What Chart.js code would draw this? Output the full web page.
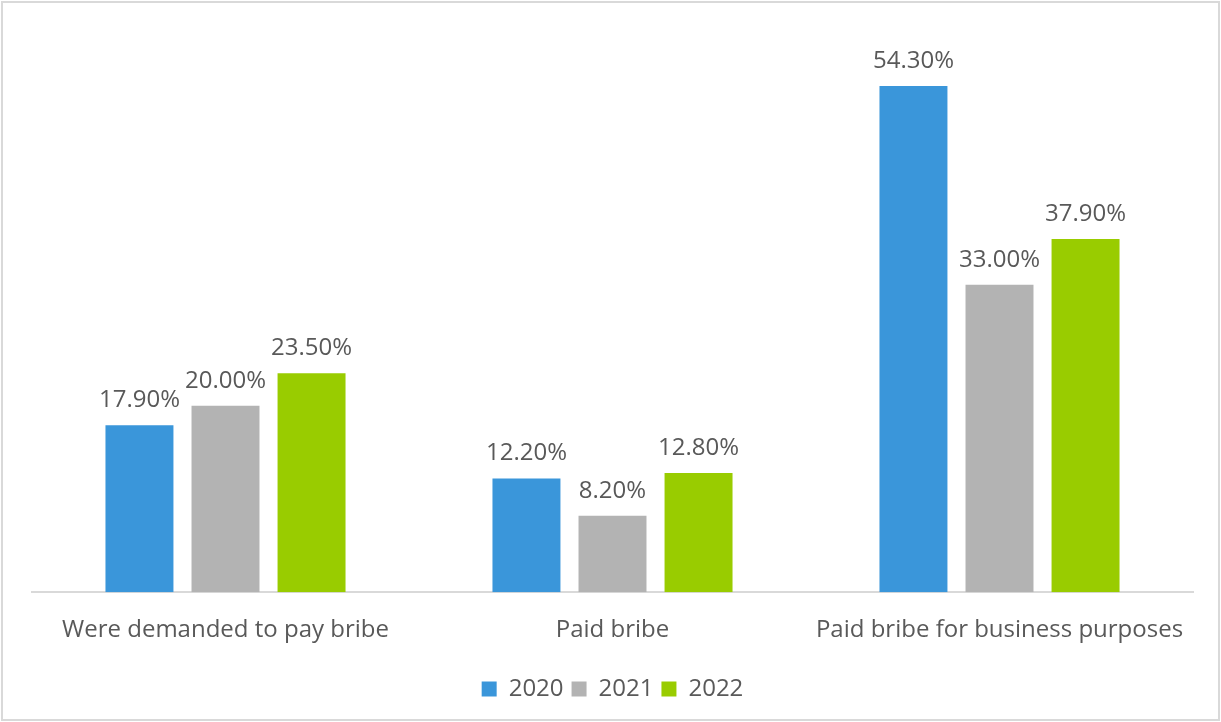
<!DOCTYPE html>
<html>
<head>
<meta charset="utf-8">
<script src="https://cdn.jsdelivr.net/npm/chart.js@4.4.0/dist/chart.umd.min.js"></script>
<style>
    html, body { margin: 0; padding: 0; background: #fff; }
    #wrap { position: relative; width: 1221px; height: 722px; }
</style>
</head>
<body>
<div id="wrap"><canvas id="chart"></canvas></div>
<script>
// Data
const categories = ['Were demanded to pay bribe', 'Paid bribe', 'Paid bribe for business purposes'];
const years = ['2020', '2021', '2022'];
const values2020 = [17.9, 12.2, 54.3];
const values2021 = [20.0, 8.2, 33.0];
const values2022 = [23.5, 12.8, 37.9];
const colors = ['#3A96DA', '#B3B3B3', '#99CC00'];

// Draws the value above each bar
const barLabels = {
    id: 'barLabels',
    afterDatasetsDraw(chart) {
        const ctx = chart.ctx;
        ctx.save();
        ctx.font = '24px "Open Sans"';
        ctx.fillStyle = '#595959';
        ctx.textAlign = 'center';
        ctx.textBaseline = 'alphabetic';
        chart.data.datasets.forEach((ds, i) => {
            chart.getDatasetMeta(i).data.forEach((bar, j) => {
                ctx.fillText(ds.data[j].toFixed(2) + '%', bar.x, bar.y - 18);
            });
        });
        ctx.restore();
    }
};

// Light grey frame around the chart
const frame = {
    id: 'frame',
    beforeDraw(chart) {
        const ctx = chart.ctx;
        ctx.save();
        ctx.strokeStyle = '#D9D9D9';
        ctx.lineWidth = 2;
        ctx.strokeRect(2, 2, chart.width - 4, chart.height - 4);
        ctx.restore();
    }
};

new Chart(document.getElementById('chart'), {
    type: 'bar',
    data: {
        labels: categories,
        datasets: [
            { label: years[0], data: values2020, backgroundColor: colors[0] },
            { label: years[1], data: values2021, backgroundColor: colors[1] },
            { label: years[2], data: values2022, backgroundColor: colors[2] }
        ]
    },
    options: {
        responsive: true,
        maintainAspectRatio: false,
        animation: false,
        layout: { padding: { left: 32, right: 28, top: 33, bottom: 11 } },
        datasets: { bar: { categoryPercentage: 0.667, barPercentage: 0.79 } },
        scales: {
            y: { display: false, min: 0, max: 60 },
            x: {
                grid: { display: false, drawTicks: false },
                border: { color: '#D9D9D9', width: 2 },
                ticks: {
                    color: '#595959',
                    font: { family: 'Open Sans', size: 24 },
                    padding: 24
                }
            }
        },
        plugins: {
            tooltip: { enabled: false },
            legend: {
                position: 'bottom',
                labels: {
                    color: '#595959',
                    font: { family: 'Open Sans', size: 24 },
                    boxWidth: 15,
                    boxHeight: 15,
                    padding: 8
                }
            }
        }
    },
    plugins: [barLabels, frame]
});
</script>
</body>
</html>
